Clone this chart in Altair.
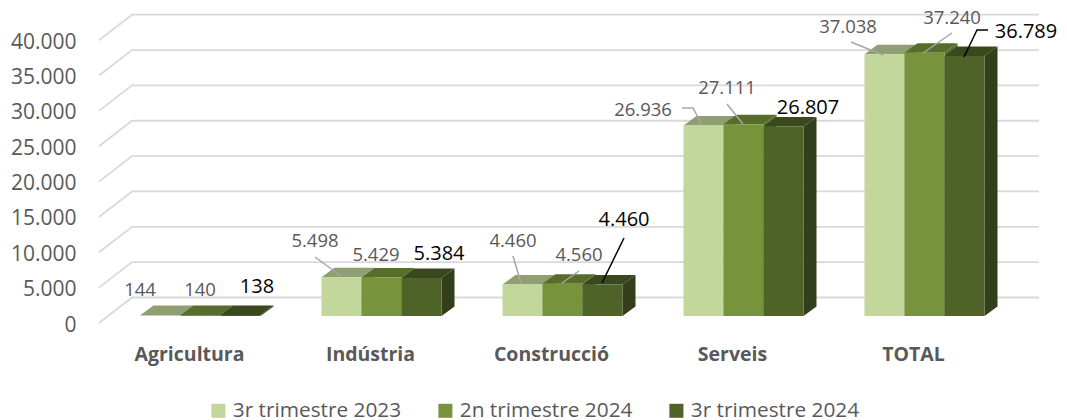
import json
import altair as alt
import pandas as pd

CATEGORIES = ["Agricultura", "Indústria", "Construcció", "Serveis", "TOTAL"]
SERIES = ["3r trimestre 2023", "2n trimestre 2024", "3r trimestre 2024"]
VALUES_T3_2023 = [144, 5498, 4460, 26936, 37038]
VALUES_T2_2024 = [140, 5429, 4560, 27111, 37240]
VALUES_T3_2024 = [138, 5384, 4460, 26807, 36789]
ALL_VALUES = [VALUES_T3_2023, VALUES_T2_2024, VALUES_T3_2024]
TICKS = [0, 5000, 10000, 15000, 20000, 25000, 30000, 35000, 40000]

FRONT = ["#C3D69B", "#77933C", "#4F6228"]
TOP = ["#8F9F71", "#576D2C", "#3A481D"]
SIDE = ["#8F9F71", "#576D2C", "#333F1A"]

# geometry of the pseudo-3D drawing (reference pixels)
PX_PER_GROUP = 181.0
PX_GROUP0 = 200.5
PX_PER_VALUE = 0.00707
PX_BASE = 316.0
PLOT_L, PLOT_R, PLOT_T, PLOT_B = 99, 1039, 12, 323
BAR_W = 40.0
DEPTH_X, DEPTH_Y = 13.0, 9.5


def ux(p):
    return (p - PX_GROUP0) / PX_PER_GROUP


def uy(p):
    return (PX_BASE - p) / PX_PER_VALUE


def du(p):
    return p / PX_PER_GROUP


def dv(p):
    return p / PX_PER_VALUE


X_SCALE = alt.Scale(domain=[ux(PLOT_L), ux(PLOT_R)], nice=False, zero=False)
Y_SCALE = alt.Scale(domain=[uy(PLOT_B), uy(PLOT_T)], nice=False, zero=False)
COLOR_SCALE = alt.Scale(domain=SERIES, range=FRONT)
X_AXIS = alt.Axis(
    values=[0, 1, 2, 3, 4],
    labelExpr=json.dumps(CATEGORIES) + "[datum.value]",
    domain=False, ticks=False, grid=False, title=None,
    labelFontWeight="bold", labelColor="#595959", labelFont="Open Sans", labelFontSize=19.5,
    labelOffset=-11.5, labelPadding=31, labelBaseline="middle", labelFlush=False, labelOverlap=False, labelAngle=0,
)
Y_AXIS = alt.Axis(
    values=TICKS,
    labelExpr="replace(format(datum.value, ','), ',', '.')",
    domain=False, ticks=False, grid=False, title=None,
    labelColor="#595959", labelFont="Open Sans", labelFontSize=21,
    labelOffset=9, labelPadding=23, labelOverlap=False,
)


def X(field, **kw):
    return alt.X(field, scale=X_SCALE, axis=X_AXIS, **kw)


def Y(field, **kw):
    return alt.Y(field, scale=Y_SCALE, axis=Y_AXIS, **kw)


fronts, tops, sides = [], [], []
for s, name in enumerate(SERIES):
    for c, cat in enumerate(CATEGORIES):
        v = ALL_VALUES[s][c]
        x0 = c + du(-1.5 * BAR_W + s * BAR_W)
        x1 = x0 + du(BAR_W)
        bid = f"{s}-{c}"
        fronts.append(dict(s=s, serie=name, cat=cat, x0=x0, x1=x1, v=v, base=0))
        tops.append(dict(s=s, id=bid, y=v, xa=x0, xb=x1))
        tops.append(dict(s=s, id=bid, y=v + dv(DEPTH_Y), xa=x0 + du(DEPTH_X), xb=x1 + du(DEPTH_X)))
        sides.append(dict(s=s, id=bid, x=x1, ya=0, yb=v))
        sides.append(dict(s=s, id=bid, x=x1 + du(DEPTH_X), ya=dv(DEPTH_Y), yb=v + dv(DEPTH_Y)))
fronts, tops, sides = pd.DataFrame(fronts), pd.DataFrame(tops), pd.DataFrame(sides)

# back-wall gridlines with their slanted floor/side part
grid_rows = []
for t in TICKS:
    back = t + uy(297.5)
    front = t + uy(323)
    grid_rows += [
        dict(t=t, o=0, x=ux(99), y=front),
        dict(t=t, o=1, x=ux(132), y=back),
        dict(t=t, o=2, x=ux(1039), y=back),
    ]
grid = alt.Chart(pd.DataFrame(grid_rows)).mark_line(color="#D9D9D9", strokeWidth=1.8).encode(
    x=X("x:Q"),
    y=Y("y:Q"),
    detail="t:N",
    order="o:Q",
)

layers = [grid]
for s in range(3):
    side = alt.Chart(sides[sides.s == s]).mark_area(color=SIDE[s], interpolate="linear", opacity=1).encode(
        x=X("x:Q"),
        y=Y("ya:Q", stack=None),
        y2="yb:Q",
        detail="id:N",
    )
    top = alt.Chart(tops[tops.s == s]).mark_area(color=TOP[s], orient="horizontal", opacity=1).encode(
        y=Y("y:Q"),
        x=X("xa:Q", stack=None),
        x2="xb:Q",
        detail="id:N",
    )
    front = alt.Chart(fronts[fronts.s == s]).mark_rect().encode(
        x=X("x0:Q"),
        x2="x1:Q",
        y=Y("base:Q"),
        y2="v:Q",
        color=alt.Color("serie:N", scale=COLOR_SCALE, legend=alt.Legend(
            title=None, orient="none", legendX=109, legendY=388, direction="horizontal",
            columns=3, columnPadding=33, padding=0,
            symbolType="square", symbolSize=196, symbolStrokeWidth=0, symbolOpacity=1,
            labelFont="Open Sans", labelFontSize=20.8, labelColor="#595959", labelOffset=4, labelLimit=300,
        )),
    )
    layers += [side, top, front]

# data-label layout: (centre x px, centre y px) per series and category
LABEL_POS = [
    [(140, 290), (315, 241), (513, 241), (643, 110), (848, 27)],
    [(200, 290), (376, 255), (579, 255), (727, 88), (952, 18)],
    [(257, 287), (439, 254), (624, 220), (808, 108), (1026, 32)],
]
label_rows = []
for s in range(3):
    for c in range(5):
        px, py = LABEL_POS[s][c]
        label_rows.append(dict(s=s, x=ux(px), y=uy(py), txt=f"{ALL_VALUES[s][c]:,}".replace(",", ".")))
labels = pd.DataFrame(label_rows)

# leader lines as polylines (reference pixels)
LEADERS = [
    (0, [(315, 257), (341, 276)]),
    (0, [(513, 256), (521, 283)]),
    (1, [(579, 271), (562, 283)]),
    (2, [(624, 238), (602, 283)]),
    (0, [(682, 108), (693, 108), (702, 125)]),
    (1, [(727, 104), (743, 124)]),
    (0, [(851, 42), (883, 55)]),
    (1, [(952, 33), (923, 53)]),
    (2, [(988, 30), (977, 30), (964, 57)]),
]
lead_rows = []
for i, (s, pts) in enumerate(LEADERS):
    for o, (px, py) in enumerate(pts):
        lead_rows.append(dict(id=i, o=o, s=s, x=ux(px), y=uy(py)))
leads = pd.DataFrame(lead_rows)

for grey, color, size, width in [(True, "#A6A6A6", 18.5, 1.5), (False, "#000000", 20, 1.5)]:
    lsub = leads[(leads.s < 2)] if grey else leads[leads.s == 2]
    tsub = labels[(labels.s < 2)] if grey else labels[labels.s == 2]
    layers.append(alt.Chart(lsub).mark_line(color=color, strokeWidth=width).encode(
        x=X("x:Q"),
        y=Y("y:Q"),
        detail="id:N",
        order="o:Q",
    ))
    layers.append(alt.Chart(tsub).mark_text(
        font="Open Sans", fontSize=size, color="#595959" if grey else "#000000",
        align="center", baseline="middle",
    ).encode(
        x=X("x:Q"),
        y=Y("y:Q"),
        text="txt:N",
    ))

chart = alt.layer(*layers).properties(
    width=PLOT_R - PLOT_L,
    height=PLOT_B - PLOT_T,
    autosize=alt.AutoSizeParams(type="none"),
    padding={"left": PLOT_L - 8, "top": PLOT_T - 8, "right": 1059 - PLOT_R, "bottom": 420 - PLOT_B},
).configure_view(stroke=None)

chart.save("out.html", embed_options={"renderer": "svg", "actions": False})
